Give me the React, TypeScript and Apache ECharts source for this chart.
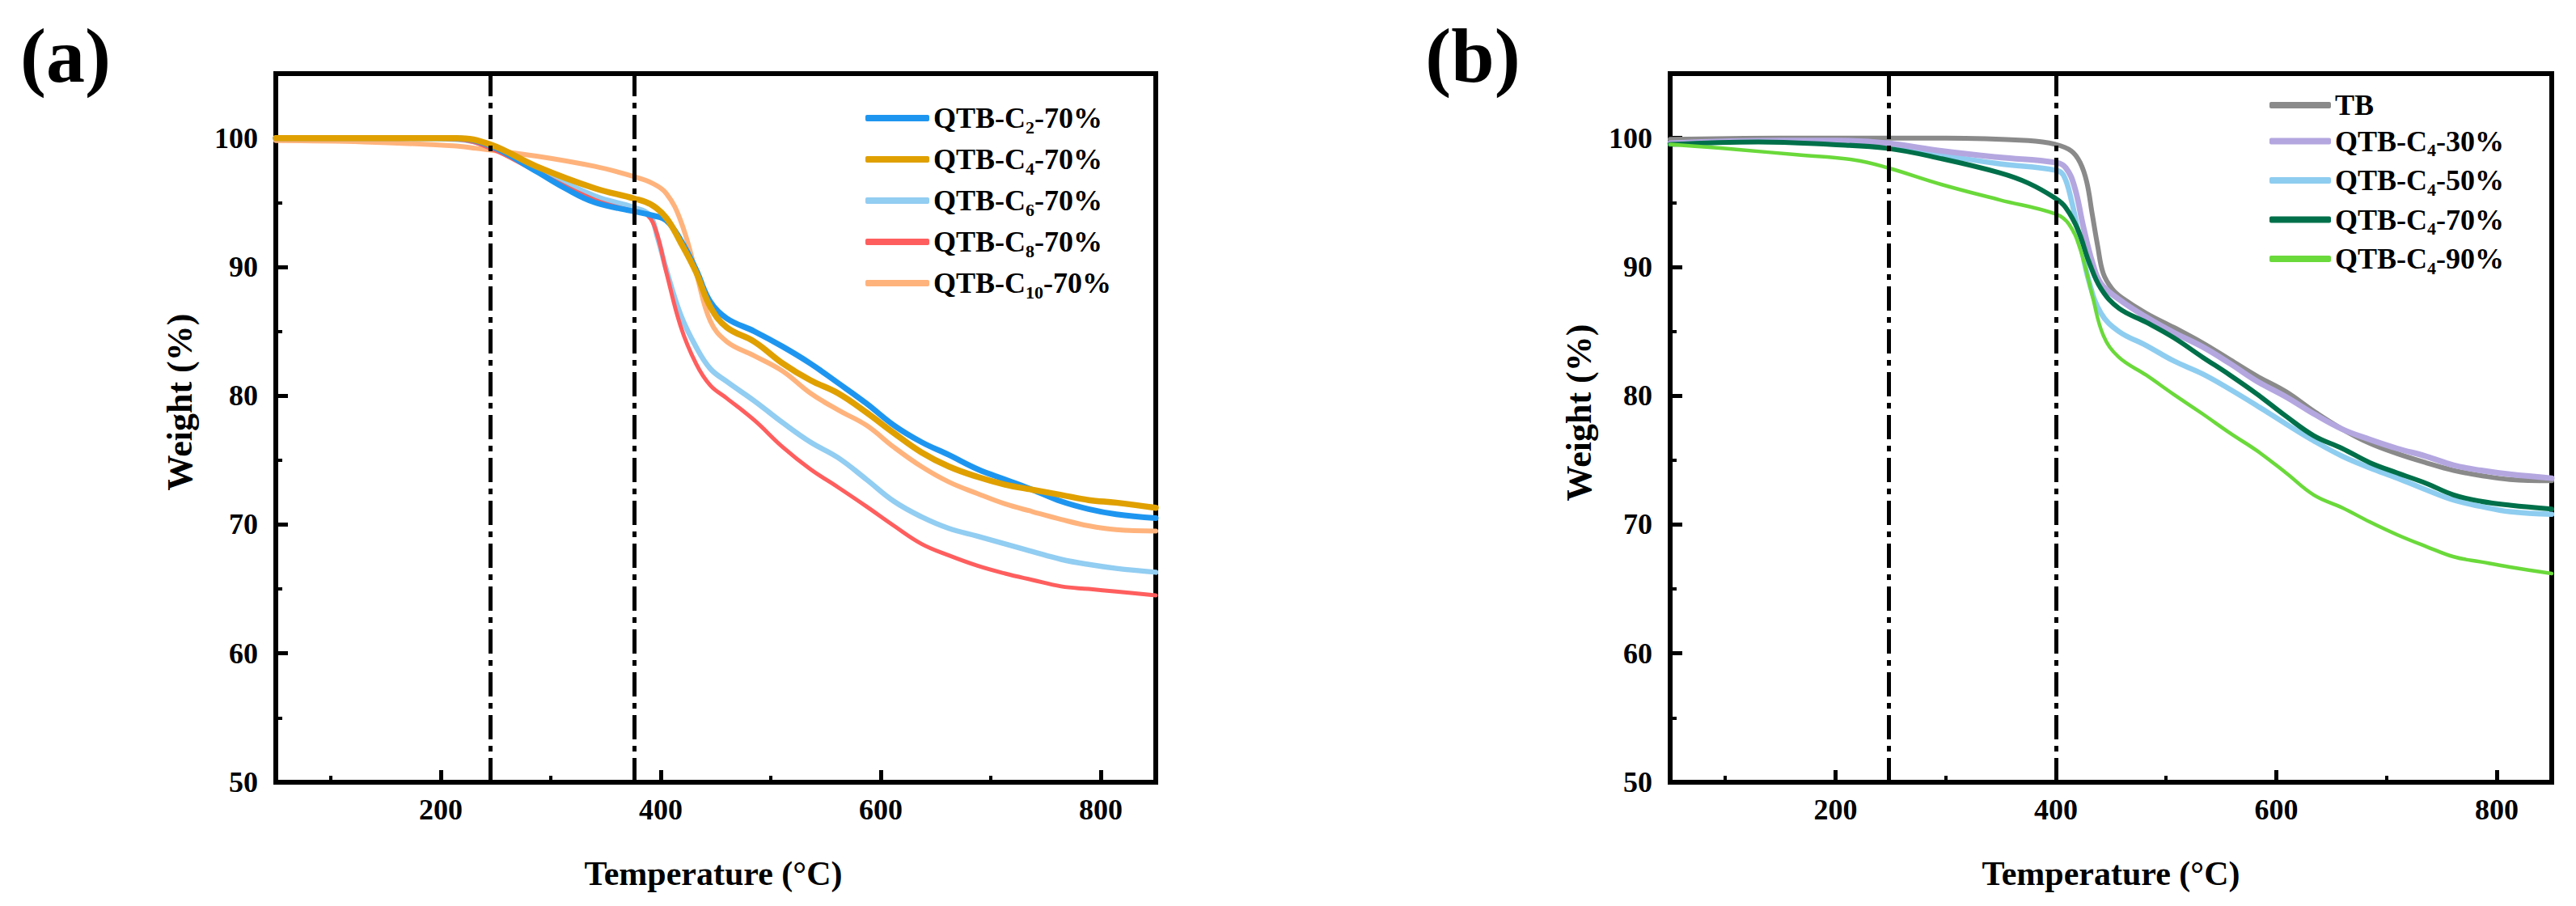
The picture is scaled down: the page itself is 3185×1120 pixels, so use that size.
import { useEffect, useRef } from 'react'
import * as echarts from 'echarts'

// ---- panel (a): chain length, all at 70 % ----
const namesA = ['QTB-C2-70%', 'QTB-C4-70%', 'QTB-C6-70%', 'QTB-C8-70%', 'QTB-C10-70%']
const labelsA = [
  ['QTB-C', '2', '-70%'],
  ['QTB-C', '4', '-70%'],
  ['QTB-C', '6', '-70%'],
  ['QTB-C', '8', '-70%'],
  ['QTB-C', '10', '-70%'],
]

// [temperature °C, weight %]
const c2w70 = [
  [50, 100], [150, 100], [210, 100], [245, 99.4], [287, 97.4], [313, 96.1], [340, 95.0],
  [376, 94.3], [392, 94.0], [405, 93.6], [418, 92.1], [432, 89.8], [445, 87.3], [460, 86.0],
  [485, 85.0], [511, 83.8], [536, 82.5], [561, 81.0], [587, 79.4], [612, 77.7], [637, 76.4],
  [662, 75.4], [688, 74.3], [713, 73.5], [738, 72.7], [764, 71.8], [789, 71.2], [814, 70.8],
  [850, 70.5],
]
const c4w70 = [
  [50, 100], [150, 100], [214, 100], [245, 99.5], [287, 97.8], [340, 96.1], [376, 95.3],
  [392, 94.8], [405, 93.8], [418, 91.9], [432, 89.6], [445, 86.9], [460, 85.3], [485, 84.2],
  [511, 82.5], [536, 81.2], [561, 80.2], [587, 78.7], [612, 77.1], [637, 75.6], [662, 74.5],
  [688, 73.7], [713, 73.1], [738, 72.7], [764, 72.3], [789, 71.9], [814, 71.7], [850, 71.3],
]
const c6w70 = [
  [50, 100], [150, 100], [214, 99.9], [245, 99.3], [287, 97.6], [340, 95.5], [376, 94.6],
  [390, 94.0], [397, 92.3], [405, 89.8], [418, 86.3], [432, 83.8], [445, 82.1], [460, 81.1],
  [485, 79.6], [511, 77.9], [536, 76.4], [561, 75.2], [587, 73.5], [612, 71.8], [637, 70.6],
  [662, 69.7], [688, 69.1], [713, 68.5], [738, 67.9], [764, 67.3], [789, 66.9], [814, 66.6],
  [850, 66.3],
]
const c8w70 = [
  [50, 100], [150, 100], [214, 99.9], [245, 99.2], [287, 97.4], [340, 95.2], [376, 94.3],
  [388, 94.0], [396, 92.7], [405, 89.6], [418, 85.4], [432, 82.5], [445, 80.8], [460, 79.8],
  [485, 78.1], [511, 76.0], [536, 74.3], [561, 72.9], [587, 71.4], [612, 69.9], [637, 68.5],
  [662, 67.6], [688, 66.8], [713, 66.2], [738, 65.7], [764, 65.2], [789, 65.0], [814, 64.8],
  [850, 64.5],
]
const c10w70 = [
  [50, 99.8], [130, 99.7], [211, 99.4], [232, 99.2], [287, 98.6], [340, 97.8], [376, 97.0],
  [392, 96.5], [405, 95.7], [418, 93.6], [432, 89.6], [445, 85.8], [460, 84.2], [485, 83.1],
  [511, 81.9], [536, 80.2], [561, 78.9], [587, 77.7], [612, 76.0], [637, 74.5], [662, 73.3],
  [688, 72.4], [713, 71.6], [738, 71.0], [764, 70.4], [789, 69.9], [814, 69.6], [850, 69.5],
]

// ---- panel (b): C4 at different contents ----
const namesB = ['TB', 'QTB-C4-30%', 'QTB-C4-50%', 'QTB-C4-70% (b)', 'QTB-C4-90%']
const labelsB = [
  ['TB', '', ''],
  ['QTB-C', '4', '-30%'],
  ['QTB-C', '4', '-50%'],
  ['QTB-C', '4', '-70%'],
  ['QTB-C', '4', '-90%'],
]

const tb = [
  [50, 99.9], [150, 100], [300, 100], [375, 99.8], [400, 99.5], [414, 99.0], [422, 98.1],
  [428, 96.6], [433, 94.1], [438, 91.6], [443, 89.5], [451, 88.3], [460, 87.6], [482, 86.4],
  [507, 85.3], [533, 84.1], [558, 82.8], [583, 81.5], [609, 80.3], [634, 78.8], [660, 77.4],
  [685, 76.3], [710, 75.5], [736, 74.8], [761, 74.2], [786, 73.8], [812, 73.5], [850, 73.4],
]
const c4w30 = [
  [50, 99.6], [150, 99.8], [200, 99.8], [247, 99.6], [296, 99.0], [349, 98.5], [400, 98.1],
  [409, 97.7], [417, 96.2], [425, 93.1], [433, 90.4], [441, 88.7], [457, 87.5], [482, 86.1],
  [507, 84.9], [533, 83.8], [558, 82.5], [583, 81.1], [609, 79.9], [634, 78.6], [660, 77.4],
  [685, 76.6], [710, 75.9], [736, 75.3], [761, 74.6], [786, 74.2], [812, 73.9], [850, 73.6],
]
const c4w50 = [
  [50, 99.6], [150, 99.8], [217, 99.8], [247, 99.6], [296, 98.7], [349, 98.0], [400, 97.5],
  [407, 97.1], [414, 95.2], [422, 92.0], [430, 88.9], [441, 86.4], [457, 85.0], [482, 83.9],
  [507, 82.7], [533, 81.7], [558, 80.5], [583, 79.2], [609, 77.8], [634, 76.5], [660, 75.3],
  [685, 74.4], [710, 73.6], [736, 72.7], [761, 71.9], [786, 71.4], [812, 71.0], [850, 70.8],
]
const c4w70b = [
  [50, 99.5], [130, 99.7], [195, 99.5], [247, 99.2], [296, 98.4], [349, 97.3], [375, 96.5],
  [400, 95.3], [409, 94.6], [420, 92.9], [430, 90.4], [441, 88.3], [457, 86.8], [482, 85.7],
  [507, 84.5], [533, 83.0], [558, 81.6], [583, 80.1], [609, 78.4], [634, 76.9], [660, 75.9],
  [685, 74.8], [710, 74.0], [736, 73.2], [761, 72.3], [786, 71.8], [812, 71.5], [850, 71.2],
]
const c4w90 = [
  [50, 99.5], [83, 99.3], [112, 99.1], [165, 98.7], [217, 98.3], [247, 97.7], [296, 96.4],
  [349, 95.2], [400, 94.1], [412, 93.3], [422, 91.4], [433, 87.8], [443, 84.7], [457, 83.0],
  [482, 81.6], [507, 80.1], [533, 78.6], [558, 77.1], [583, 75.7], [609, 74.0], [634, 72.3],
  [660, 71.3], [685, 70.2], [710, 69.2], [736, 68.3], [761, 67.5], [786, 67.1], [812, 66.7],
  [850, 66.2],
]

// axes and reference lines
const majorTicksX = [200, 400, 600, 800]
const minorTicksX = [100, 300, 500, 700]
const majorTicksY = [50, 60, 70, 80, 90, 100]
const minorTicksY = [55, 65, 75, 85, 95]
const markersA = [245, 376]
const markersB = [248, 400]

const FONT = "'Liberation Serif', 'Times New Roman', serif"

const richText = {
  m: { fontFamily: FONT, fontWeight: 'bold', fontSize: 36, lineHeight: 44, color: '#000' },
  s: { fontFamily: FONT, fontWeight: 'bold', fontSize: 22, lineHeight: 18, verticalAlign: 'bottom', color: '#000' },
}

function legendFormatter(names: string[], labels: string[][]) {
  return (name: string) => {
    const [m, s, t] = labels[names.indexOf(name)]
    return s ? `{m|${m}}{s|${s}}{m|${t}}` : `{m|${m}}`
  }
}

function line(name: string, data: number[][], color: string, width: number, axis: number, marks?: number[]) {
  const s: any = {
    name,
    type: 'line',
    data,
    xAxisIndex: axis,
    yAxisIndex: axis,
    symbol: 'none',
    showSymbol: false,
    smooth: 0.4,
    lineStyle: { color, width, cap: 'round', join: 'round' },
    itemStyle: { color },
  }
  if (marks) {
    s.markLine = {
      silent: true,
      symbol: ['none', 'none'],
      label: { show: false },
      lineStyle: { color: '#000', width: 5, type: [30, 8, 7, 8] },
      data: marks.map((v) => ({ xAxis: v })),
    }
  }
  return s
}

function axesFor(grid: number, minor: boolean) {
  const base = { type: 'value', gridIndex: grid, splitLine: { show: false } }
  if (minor) {
    return {
      x: {
        ...base, min: 50, max: 850, position: 'bottom',
        axisLine: { show: false },
        axisTick: { show: true, inside: true, length: 8, customValues: minorTicksX, lineStyle: { color: '#000', width: 4 } },
        axisLabel: { show: false },
      },
      y: {
        ...base, min: 50, max: 105, position: 'left',
        axisLine: { show: false },
        axisTick: { show: true, inside: true, length: 8, customValues: minorTicksY, lineStyle: { color: '#000', width: 4 } },
        axisLabel: { show: false },
      },
    }
  }
  const label = { fontFamily: FONT, fontWeight: 'bold', fontSize: 36, color: '#000' }
  return {
    x: {
      ...base, min: 50, max: 850, position: 'bottom',
      axisLine: { show: true, onZero: false, lineStyle: { color: '#000', width: 6 } },
      axisTick: { show: true, inside: true, length: 15, customValues: majorTicksX, lineStyle: { color: '#000', width: 5 } },
      axisLabel: { ...label, customValues: majorTicksX, margin: 16 },
    },
    y: {
      ...base, min: 50, max: 105, interval: 10, position: 'left',
      axisLine: { show: true, onZero: false, lineStyle: { color: '#000', width: 6 } },
      axisTick: { show: true, inside: true, length: 15, customValues: majorTicksY, lineStyle: { color: '#000', width: 5 } },
      axisLabel: { ...label, customValues: majorTicksY, margin: 22 },
    },
  }
}

export default function App() {
  const chartRef = useRef<HTMLDivElement>(null)

  useEffect(() => {
    if (!chartRef.current) return
    const chart = echarts.init(chartRef.current, null, { renderer: 'svg' })

    const gA = { left: 341, top: 91, width: 1088, height: 876 }
    const gB = { left: 2065, top: 91, width: 1090, height: 876 }
    const frame = { show: true, borderColor: '#000', borderWidth: 6, backgroundColor: 'transparent' }

    const aMain = axesFor(0, false)
    const aMinor = axesFor(1, true)
    const bMain = axesFor(2, false)
    const bMinor = axesFor(3, true)

    const axisTitle = { fontFamily: FONT, fontWeight: 'bold', fontSize: 42, fill: '#000', align: 'center', verticalAlign: 'middle' }

    const option = {
      animation: false,
      backgroundColor: '#fff',
      textStyle: { fontFamily: FONT },
      grid: [
        { ...gA, ...frame },
        { ...gA },
        { ...gB, ...frame },
        { ...gB },
      ],
      xAxis: [aMain.x, aMinor.x, bMain.x, bMinor.x],
      yAxis: [aMain.y, aMinor.y, bMain.y, bMinor.y],
      legend: [
        {
          data: namesA,
          orient: 'vertical',
          left: 1065,
          top: 123,
          icon: 'roundRect',
          itemWidth: 79,
          itemHeight: 8,
          itemGap: 11,
          selectedMode: false,
          formatter: legendFormatter(namesA, labelsA),
          textStyle: { rich: richText },
        },
        {
          data: namesB,
          orient: 'vertical',
          left: 2801,
          top: 107,
          icon: 'roundRect',
          itemWidth: 76,
          itemHeight: 8,
          itemGap: 8.5,
          selectedMode: false,
          formatter: legendFormatter(namesB, labelsB),
          textStyle: { rich: richText },
        },
      ],
      graphic: [
        { type: 'text', x: 81, y: 68, style: { text: '(a)', fontFamily: FONT, fontWeight: 'bold', fontSize: 96, fill: '#000', align: 'center', verticalAlign: 'middle' } },
        { type: 'text', x: 1821, y: 68, style: { text: '(b)', fontFamily: FONT, fontWeight: 'bold', fontSize: 96, fill: '#000', align: 'center', verticalAlign: 'middle' } },
        { type: 'text', x: 222, y: 497, rotation: Math.PI / 2, style: { text: 'Weight (%)', ...axisTitle, fontSize: 44 } },
        { type: 'text', x: 1952, y: 510, rotation: Math.PI / 2, style: { text: 'Weight (%)', ...axisTitle, fontSize: 44 } },
        { type: 'text', x: 882, y: 1080, style: { text: 'Temperature (°C)', ...axisTitle } },
        { type: 'text', x: 2610, y: 1080, style: { text: 'Temperature (°C)', ...axisTitle } },
      ],
      series: [
        // panel (a), drawn back to front
        line(namesA[4], c10w70, '#ffb37c', 6, 0, markersA),
        line(namesA[2], c6w70, '#92cdf2', 6.5, 0),
        line(namesA[3], c8w70, '#ff5e5e', 5, 0),
        line(namesA[0], c2w70, '#1e96f0', 7, 0),
        line(namesA[1], c4w70, '#e0a000', 7.5, 0),
        // panel (b)
        line(namesB[2], c4w50, '#8ecdf0', 6.5, 2, markersB),
        line(namesB[0], tb, '#8a8a8a', 6, 2),
        line(namesB[1], c4w30, '#b4a7e0', 7, 2),
        line(namesB[3], c4w70b, '#00704a', 6, 2),
        line(namesB[4], c4w90, '#6ad93a', 4.5, 2),
      ],
    }

    chart.setOption(option as any)

    return () => {
      chart.dispose()
    }
  }, [])

  return (
    <div
      ref={chartRef}
      style={{ position: 'fixed', left: 0, top: 0, width: 3185, height: 1120, background: '#fff' }}
    />
  )
}
